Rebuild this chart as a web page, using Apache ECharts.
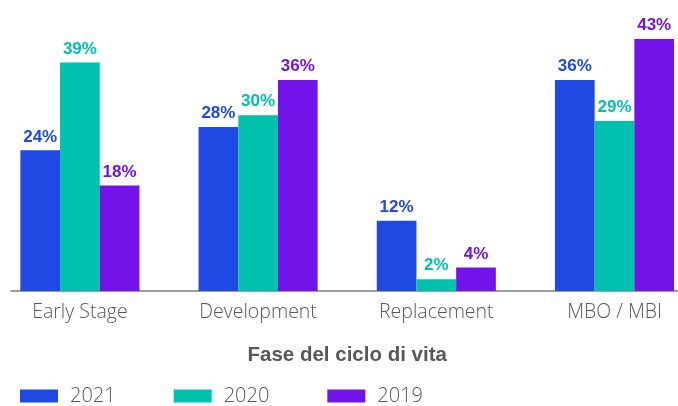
<!DOCTYPE html>
<html>
<head>
<meta charset="utf-8">
<script src="https://cdn.jsdelivr.net/npm/echarts@6/dist/echarts.min.js"></script>
<style>
  html, body { margin: 0; padding: 0; background: #ffffff; }
  #chart { width: 678px; height: 406px; }
</style>
</head>
<body>
<div id="chart"></div>
<script>
// Lifecycle phases and share of deals per year (%)
const categories = ['Early Stage', 'Development', 'Replacement', 'MBO / MBI'];
const years = ['2021', '2020', '2019'];
const values2021 = [24, 28, 12, 36];
const values2020 = [39, 30, 2, 29];
const values2019 = [18, 36, 4, 43];
const axisTitle = 'Fase del ciclo di vita';

const colors = ['#1E49E2', '#00C0AE', '#7213EA'];
const seriesValues = [values2021, values2020, values2019];
const lightFont = 'Open Sans, Liberation Sans, Arial, sans-serif';

const chart = echarts.init(document.getElementById('chart'), null, { renderer: 'canvas' });

const series = years.map((y, i) => ({
  name: y,
  type: 'bar',
  xAxisIndex: 0,
  yAxisIndex: 0,
  data: seriesValues[i],
  barWidth: 39.7,
  barGap: '0%',
  itemStyle: { color: colors[i] },
  label: {
    show: true,
    position: 'top',
    distance: 5,
    formatter: '{c}%',
    color: colors[i],
    fontFamily: 'Liberation Sans, Arial, sans-serif',
    fontWeight: 'bold',
    fontSize: 17
  }
}));

chart.setOption({
  animation: false,
  backgroundColor: '#ffffff',
  grid: [
    // the category bands run slightly past both canvas edges
    { left: -9.2, width: 712.8, top: 27.3, bottom: 115, outerBoundsMode: 'none', containLabel: false },
    { left: 11, right: 0, top: 27.3, bottom: 115, outerBoundsMode: 'none' }
  ],
  xAxis: [
    {
      type: 'category',
      gridIndex: 0,
      data: categories,
      axisLine: { show: false },
      axisTick: { show: false },
      axisLabel: {
        margin: 11,
        color: '#595959',
        fontFamily: lightFont,
        fontWeight: 300,
        fontSize: 19.5
      },
      name: axisTitle,
      nameLocation: 'middle',
      nameGap: 54,
      nameTextStyle: {
        color: '#595959',
        fontFamily: 'Liberation Sans, Arial, sans-serif',
        fontWeight: 'bold',
        fontSize: 20.5,
        verticalAlign: 'top'
      }
    },
    {
      type: 'value',
      gridIndex: 1,
      min: 0,
      max: 1,
      axisLine: { show: true, lineStyle: { color: '#7f7f7f', width: 1.5 } },
      axisTick: { show: false },
      axisLabel: { show: false },
      splitLine: { show: false }
    }
  ],
  yAxis: [
    {
      type: 'value',
      gridIndex: 0,
      min: 0,
      max: 45,
      show: false,
      splitLine: { show: false }
    },
    {
      type: 'value',
      gridIndex: 1,
      min: 0,
      max: 1,
      show: false
    }
  ],
  legend: {
    data: years,
    left: 15,
    top: 381,
    icon: 'rect',
    itemWidth: 38,
    itemHeight: 13,
    itemGap: 58,
    textStyle: {
      color: '#595959',
      fontFamily: lightFont,
      fontWeight: 300,
      fontSize: 20,
      padding: [0, 0, 0, 7]
    }
  },
  series: series
});
</script>
</body>
</html>
